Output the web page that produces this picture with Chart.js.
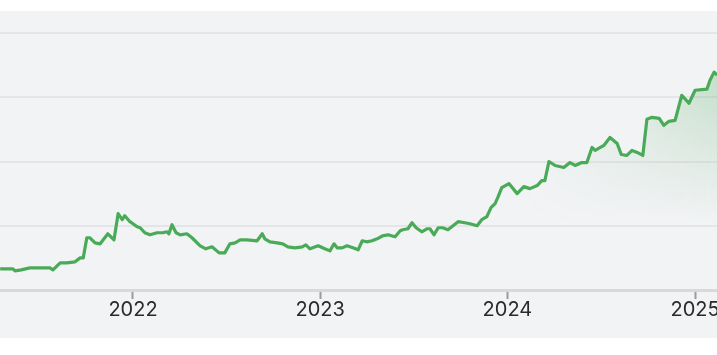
<!DOCTYPE html>
<html>
<head>
<meta charset="utf-8">
<script src="https://cdn.jsdelivr.net/npm/chart.js@4.4.1/dist/chart.umd.min.js"></script>
<style>
  html, body { margin: 0; padding: 0; background: #fff; }
  .panel { position: absolute; left: 0; top: 11px; width: 717px; height: 327px; background: #f2f3f5; overflow: hidden; }
  canvas { display: block; }
</style>
</head>
<body>
<div class="panel"><canvas id="chart" width="760" height="327"></canvas></div>
<script>
// values (weekly-ish closes, arbitrary units: gridlines every 100)
const dates = [
  '2021-04-17', '2021-05-12', '2021-05-16', '2021-05-28', '2021-06-14', '2021-07-04', '2021-07-23', '2021-07-29',
  '2021-08-12', '2021-08-25', '2021-09-10', '2021-09-20', '2021-09-26', '2021-10-03', '2021-10-09', '2021-10-19',
  '2021-10-29', '2021-11-13', '2021-11-25', '2021-12-03', '2021-12-11', '2021-12-16', '2021-12-26', '2022-01-01',
  '2022-01-09', '2022-01-15', '2022-01-24', '2022-02-03', '2022-02-17', '2022-02-28', '2022-03-08', '2022-03-12',
  '2022-03-18', '2022-03-26', '2022-04-03', '2022-04-16', '2022-04-26', '2022-05-12', '2022-05-23', '2022-06-04',
  '2022-06-18', '2022-06-29', '2022-07-09', '2022-07-19', '2022-07-29', '2022-08-11', '2022-08-31', '2022-09-10',
  '2022-09-15', '2022-09-25', '2022-10-09', '2022-10-20', '2022-10-30', '2022-11-13', '2022-11-27', '2022-12-04',
  '2022-12-12', '2022-12-28', '2023-01-10', '2023-01-20', '2023-01-28', '2023-02-03', '2023-02-13', '2023-02-22',
  '2023-03-06', '2023-03-16', '2023-03-24', '2023-04-02', '2023-04-12', '2023-04-22', '2023-05-03', '2023-05-13',
  '2023-05-27', '2023-06-06', '2023-06-11', '2023-06-21', '2023-06-29', '2023-07-07', '2023-07-18', '2023-07-28',
  '2023-08-03', '2023-08-11', '2023-08-19', '2023-08-28', '2023-09-07', '2023-09-17', '2023-09-27', '2023-10-10',
  '2023-10-20', '2023-11-03', '2023-11-12', '2023-11-22', '2023-11-30', '2023-12-08', '2023-12-14', '2023-12-21',
  '2024-01-04', '2024-01-20', '2024-02-02', '2024-02-14', '2024-02-28', '2024-03-08', '2024-03-14', '2024-03-22',
  '2024-04-03', '2024-04-20', '2024-05-02', '2024-05-12', '2024-05-25', '2024-06-04', '2024-06-14', '2024-06-20',
  '2024-07-07', '2024-07-19', '2024-08-02', '2024-08-10', '2024-08-21', '2024-08-31', '2024-09-10', '2024-09-21',
  '2024-09-29', '2024-10-09', '2024-10-23', '2024-11-01', '2024-11-11', '2024-11-23', '2024-12-06', '2024-12-20',
  '2025-01-01', '2025-01-24', '2025-01-30', '2025-02-07', '2025-02-13'
];
const values = [
  32.8, 32.8, 29.7, 31.3, 34.4, 34.4, 34.4, 31.3,
  42.2, 42.2, 43.8, 50.0, 50.0, 81.3, 81.3, 73.4,
  71.9, 87.5, 78.1, 118.8, 109.4, 115.6, 106.3, 103.1,
  98.4, 96.9, 89.1, 85.9, 89.1, 89.1, 90.6, 87.5,
  101.6, 89.1, 85.9, 87.5, 81.3, 68.8, 64.1, 67.2,
  57.8, 57.8, 71.9, 73.4, 78.1, 78.1, 76.6, 87.5,
  79.7, 75.0, 73.4, 71.9, 67.2, 65.6, 67.2, 70.3,
  64.1, 68.8, 64.1, 60.9, 71.9, 65.6, 65.6, 68.8,
  65.6, 62.5, 76.6, 75.0, 76.6, 79.7, 84.4, 85.9,
  82.8, 92.2, 93.8, 95.3, 104.7, 96.9, 90.6, 95.3,
  95.3, 85.9, 96.9, 96.9, 93.8, 100.0, 106.3, 104.7,
  103.1, 100.0, 109.4, 114.1, 128.1, 134.4, 145.3, 159.4,
  165.6, 150.0, 160.9, 157.8, 162.5, 170.3, 170.3, 200.0,
  193.8, 190.6, 198.4, 193.8, 198.4, 198.4, 221.9, 217.2,
  225.0, 237.5, 228.1, 210.9, 209.4, 217.2, 214.1, 209.4,
  265.6, 268.8, 267.2, 256.3, 262.5, 264.1, 303.1, 290.6,
  310.9, 312.5, 326.6, 339.1, 334.4
];
const yearTicks = ['2022-01-01', '2023-01-01', '2024-01-01', '2025-01-01'];
const yMax = 400;
const yStep = 100;

const DAY = 86400000;
const toTime = (d) => new Date(d + 'T00:00:00Z').getTime();
const points = dates.map((d, i) => ({ x: toTime(d), y: values[i] }));
const xMin = toTime('2021-04-17') - 0.3 * DAY;
const xMax = toTime('2022-01-01') + 1222.5 * DAY;

// green fill that fades out downwards and towards the left
function fillStyle(context) {
  const chart = context.chart;
  const area = chart.chartArea;
  if (!area) return 'rgba(0,0,0,0)';
  const off = document.createElement('canvas');
  off.width = chart.width;
  off.height = chart.height;
  const c = off.getContext('2d');
  const v = c.createLinearGradient(0, area.top + 45, 0, area.top + 190);
  v.addColorStop(0, 'rgba(72,168,86,0.26)');
  v.addColorStop(1, 'rgba(72,168,86,0)');
  c.fillStyle = v;
  c.fillRect(0, 0, off.width, off.height);
  c.globalCompositeOperation = 'destination-in';
  const h = c.createLinearGradient(520, 0, 717, 0);
  h.addColorStop(0, 'rgba(0,0,0,0)');
  h.addColorStop(1, 'rgba(0,0,0,1)');
  c.fillStyle = h;
  c.fillRect(0, 0, off.width, off.height);
  return chart.ctx.createPattern(off, 'no-repeat');
}

new Chart(document.getElementById('chart'), {
  type: 'line',
  data: {
    datasets: [
      {
        data: points,
        borderColor: '#49aa58',
        borderWidth: 3.2,
        borderJoinStyle: 'round',
        pointRadius: 0,
        tension: 0,
        fill: 'origin',
        backgroundColor: fillStyle,
      },
    ],
  },
  options: {
    responsive: false,
    animation: false,
    layout: { padding: { top: 22, bottom: 17, left: 0, right: 0 } },
    plugins: { legend: { display: false }, tooltip: { enabled: false } },
    scales: {
      x: {
        type: 'linear',
        min: xMin,
        max: xMax,
        afterBuildTicks: (scale) => {
          scale.ticks = yearTicks.map((d) => ({ value: toTime(d) }));
        },
        grid: { drawOnChartArea: false, drawTicks: true, tickLength: 9, tickColor: '#9b9b9b', tickWidth: 2 },
        border: { color: '#d8d9dc', width: 3 },
        ticks: {
          autoSkip: false,
          maxRotation: 0,
          padding: -1,
          color: '#2a2a2a',
          font: { family: 'Inter', size: 20 },
          callback: (v) => new Date(v).getUTCFullYear(),
        },
      },
      y: {
        min: 0,
        max: yMax,
        ticks: { display: false, stepSize: yStep },
        grid: { color: '#e4e5e8', lineWidth: 2, drawTicks: false },
        border: { display: false },
      },
    },
  },
});
</script>
</body>
</html>
